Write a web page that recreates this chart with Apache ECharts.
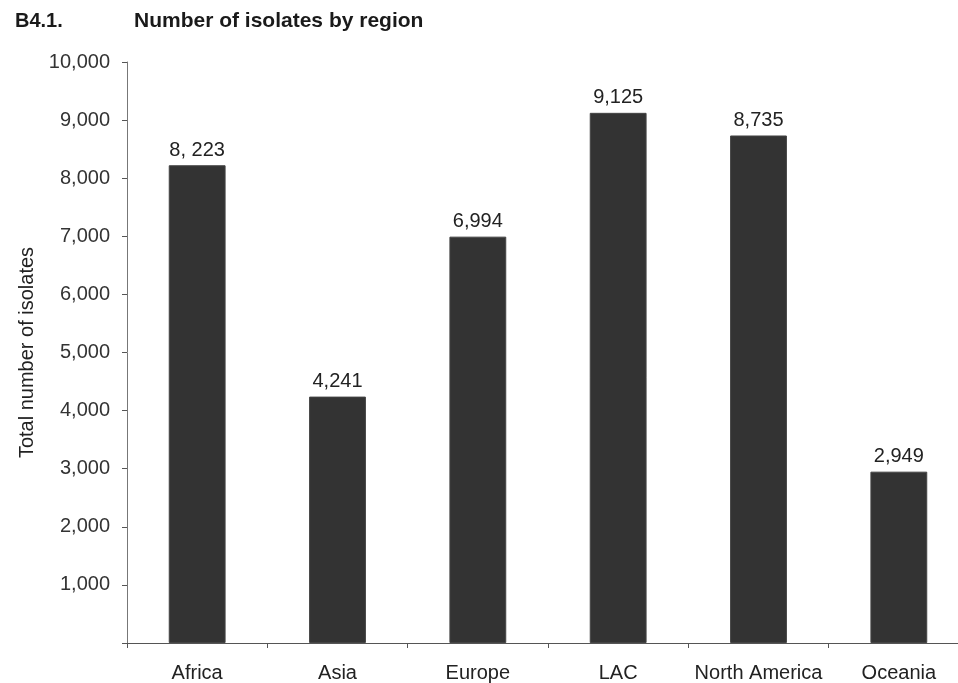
<!DOCTYPE html>
<html>
<head>
<meta charset="utf-8">
<script src="https://cdn.jsdelivr.net/npm/echarts@6/dist/echarts.min.js"></script>
<style>
html,body{margin:0;padding:0;background:#fff;overflow:hidden;width:958px;height:683px;}
#chart{width:969px;height:683px;}
</style>
</head>
<body>
<div id="chart"></div>
<script>
const categories = ["Africa", "Asia", "Europe", "LAC", "North America", "Oceania"];
const isolates = [8223, 4241, 6994, 9125, 8735, 2949];
const barLabels = ["8, 223", "4,241", "6,994", "9,125", "8,735", "2,949"];
const yTicks = [0, 1000, 2000, 3000, 4000, 5000, 6000, 7000, 8000, 9000, 10000];

const font = "'Liberation Sans', Arial, sans-serif";
const chart = echarts.init(document.getElementById('chart'), null, {renderer: 'canvas'});
chart.setOption({
  animation: false,
  backgroundColor: '#ffffff',
  title: [
    {text: 'B4.1.', left: 10, top: 6, textStyle: {fontFamily: font, fontSize: 20, fontWeight: 'bold', color: '#1a1a1a'}},
    {text: 'Number of isolates by region', left: 129, top: 6, textStyle: {fontFamily: font, fontSize: 21, fontWeight: 'bold', color: '#1a1a1a'}}
  ],
  grid: {left: 127, right: 0, top: 62, bottom: 40, containLabel: false},
  xAxis: {
    type: 'category',
    data: categories,
    boundaryGap: true,
    axisLine: {show: true, lineStyle: {color: '#555', width: 1}},
    axisTick: {show: true, length: 5, lineStyle: {color: '#555'}},
    axisLabel: {interval: 0, margin: 20, fontFamily: font, fontSize: 20, color: '#222'},
    splitLine: {show: false}
  },
  yAxis: {
    type: 'value',
    min: yTicks[0],
    max: yTicks[yTicks.length - 1],
    interval: 1000,
    name: 'Total number of isolates',
    nameLocation: 'middle',
    nameGap: 87,
    nameRotate: 90,
    nameTextStyle: {fontFamily: font, fontSize: 20, color: '#222'},
    axisLine: {show: true, lineStyle: {color: '#777', width: 1}},
    axisTick: {show: true, length: 5, inside: false, lineStyle: {color: '#555'}},
    axisLabel: {
      margin: 17, fontFamily: font, fontSize: 20, color: '#333',
      formatter: function (v) { return v === 0 ? '' : v.toLocaleString('en-US'); }
    },
    splitLine: {show: false}
  },
  series: [{
    type: 'bar',
    data: isolates,
    barWidth: '40.5%',
    itemStyle: {color: '#333333', borderColor: '#444', borderWidth: 1},
    label: {
      show: true,
      position: 'top',
      distance: 5,
      fontFamily: font,
      fontSize: 20,
      color: '#222',
      formatter: function (p) { return barLabels[p.dataIndex]; }
    }
  }]
});
</script>
</body>
</html>
